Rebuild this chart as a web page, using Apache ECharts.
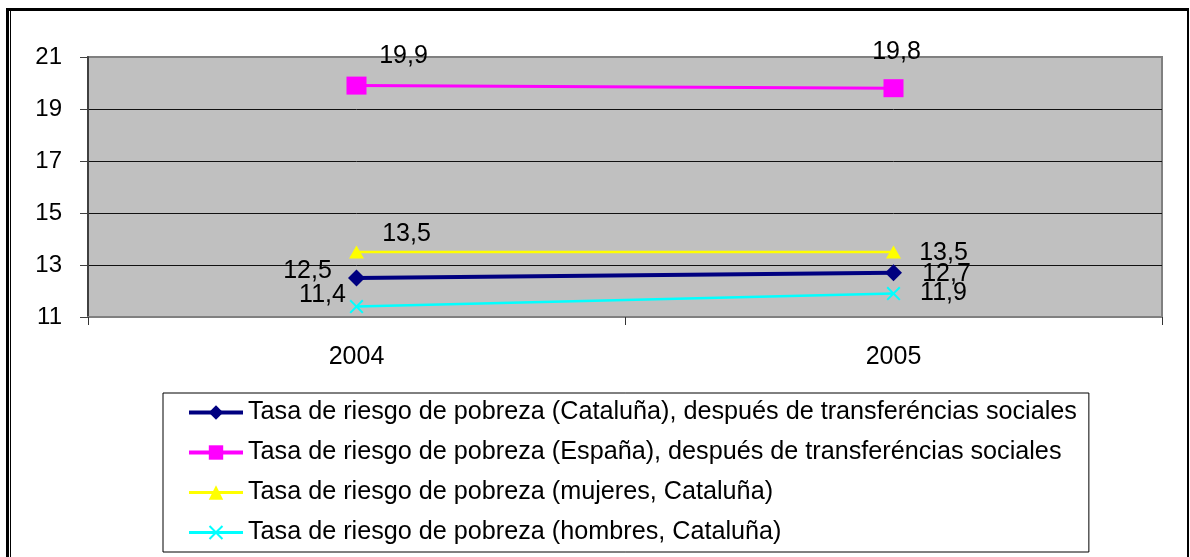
<!DOCTYPE html>
<html>
<head>
<meta charset="UTF-8">
<title>Tasa de riesgo de pobreza</title>
<script src="https://cdn.jsdelivr.net/npm/echarts@6/dist/echarts.min.js"></script>
<style>
  html, body { margin: 0; padding: 0; background: #fff; }
  #main { width: 1190px; height: 557px; }
</style>
</head>
<body>
<div id="main"></div>
<script>
  // datos
  var years = ['2004', '2005'];
  var cataluna = [12.5, 12.7];
  var espana = [19.9, 19.8];
  var mujeres = [13.5, 13.5];
  var hombres = [11.4, 11.9];
  var yTicks = [11, 13, 15, 17, 19, 21];

  var names = [
    'Tasa de riesgo de pobreza (Cataluña), después de transferéncias sociales',
    'Tasa de riesgo de pobreza (España), después de transferéncias sociales',
    'Tasa de riesgo de pobreza (mujeres, Cataluña)',
    'Tasa de riesgo de pobreza (hombres, Cataluña)'
  ];

  var font = "'Liberation Sans', Arial, sans-serif";

  // etiquetas: desplazamiento desde el punto
  function withLabels(values, offsets) {
    return values.map(function (v, i) {
      return {
        value: v,
        label: { position: 'inside', offset: offsets[i] }
      };
    });
  }

  var labelBase = {
    show: true,
    color: '#000',
    fontSize: 25,
    fontFamily: font,
    formatter: function (p) { return String(p.value).replace('.', ','); }
  };

  var chart = echarts.init(document.getElementById('main'));

  chart.setOption({
    animation: false,
    textStyle: { fontFamily: font },
    grid: {
      left: 88, right: 28, top: 57, bottom: 240,
      show: true,
      backgroundColor: '#C0C0C0',
      borderColor: '#808080',
      borderWidth: 2
    },
    xAxis: {
      type: 'category',
      data: years,
      boundaryGap: true,
      axisLine: { lineStyle: { color: '#808080', width: 2 } },
      axisTick: { show: true, length: 8, alignWithLabel: false, lineStyle: { color: '#333' } },
      axisLabel: { fontSize: 25, color: '#000', margin: 28, fontFamily: font },
      splitLine: { show: false }
    },
    yAxis: {
      type: 'value',
      min: yTicks[0],
      max: yTicks[yTicks.length - 1],
      interval: 2,
      axisLine: { show: true, lineStyle: { color: '#404040', width: 2 } },
      axisTick: { show: true, length: 8, lineStyle: { color: '#404040' } },
      axisLabel: { fontSize: 24, color: '#000', margin: 26, fontFamily: font },
      splitLine: { show: true, showMinLine: false, showMaxLine: false, lineStyle: { color: '#111', width: 1 } }
    },
    legend: {
      orient: 'vertical',
      left: 163,
      top: 393,
      padding: [7, 12, 7, 24],
      borderColor: '#000',
      borderWidth: 1,
      backgroundColor: '#fff',
      itemWidth: 54,
      itemHeight: 18,
      itemGap: 15,
      textStyle: { fontSize: 25.2, color: '#000', fontFamily: font, lineHeight: 25 },
      data: [
        { name: names[0], lineStyle: { width: 4 } },
        { name: names[1], lineStyle: { width: 4 } },
        { name: names[2], lineStyle: { width: 3 } },
        { name: names[3], lineStyle: { width: 3 } }
      ]
    },
    graphic: [
      { type: 'rect', shape: { x: 6, y: 8, width: 3, height: 560 }, style: { fill: '#000' } },
      { type: 'rect', shape: { x: 10, y: 11, width: 1, height: 560 }, style: { fill: '#000' } },
      { type: 'rect', shape: { x: 6, y: 8, width: 1183, height: 3 }, style: { fill: '#000' } },
      { type: 'rect', shape: { x: 1187, y: 8, width: 2, height: 560 }, style: { fill: '#000' } }
    ],
    series: [
      {
        name: names[0],
        type: 'line',
        data: withLabels(cataluna, [[-49, -7], [53, 1]]),
        symbol: 'diamond',
        symbolSize: 17,
        lineStyle: { color: '#000080', width: 4 },
        itemStyle: { color: '#000080' },
        label: labelBase,
        z: 4
      },
      {
        name: names[1],
        type: 'line',
        data: withLabels(espana, [[47, -29], [3, -36]]),
        symbol: 'rect',
        symbolSize: [20, 18],
        lineStyle: { color: '#FF00FF', width: 3 },
        itemStyle: { color: '#FF00FF' },
        label: labelBase,
        z: 3
      },
      {
        name: names[2],
        type: 'line',
        data: withLabels(mujeres, [[50, -18], [50, 1]]),
        symbol: 'triangle',
        symbolSize: [15, 13],
        lineStyle: { color: '#FFFF00', width: 2.5 },
        itemStyle: { color: '#FFFF00' },
        label: labelBase,
        z: 3
      },
      {
        name: names[3],
        type: 'line',
        data: withLabels(hombres, [[-34, -11], [50, 0]]),
        symbol: 'path://M0,1L1,0L5,4L9,0L10,1L6,5L10,9L9,10L5,6L1,10L0,9L4,5Z',
        symbolSize: 14,
        lineStyle: { color: '#00FFFF', width: 2.5 },
        itemStyle: { color: '#00FFFF' },
        label: labelBase,
        z: 3
      }
    ]
  });
</script>
</body>
</html>
